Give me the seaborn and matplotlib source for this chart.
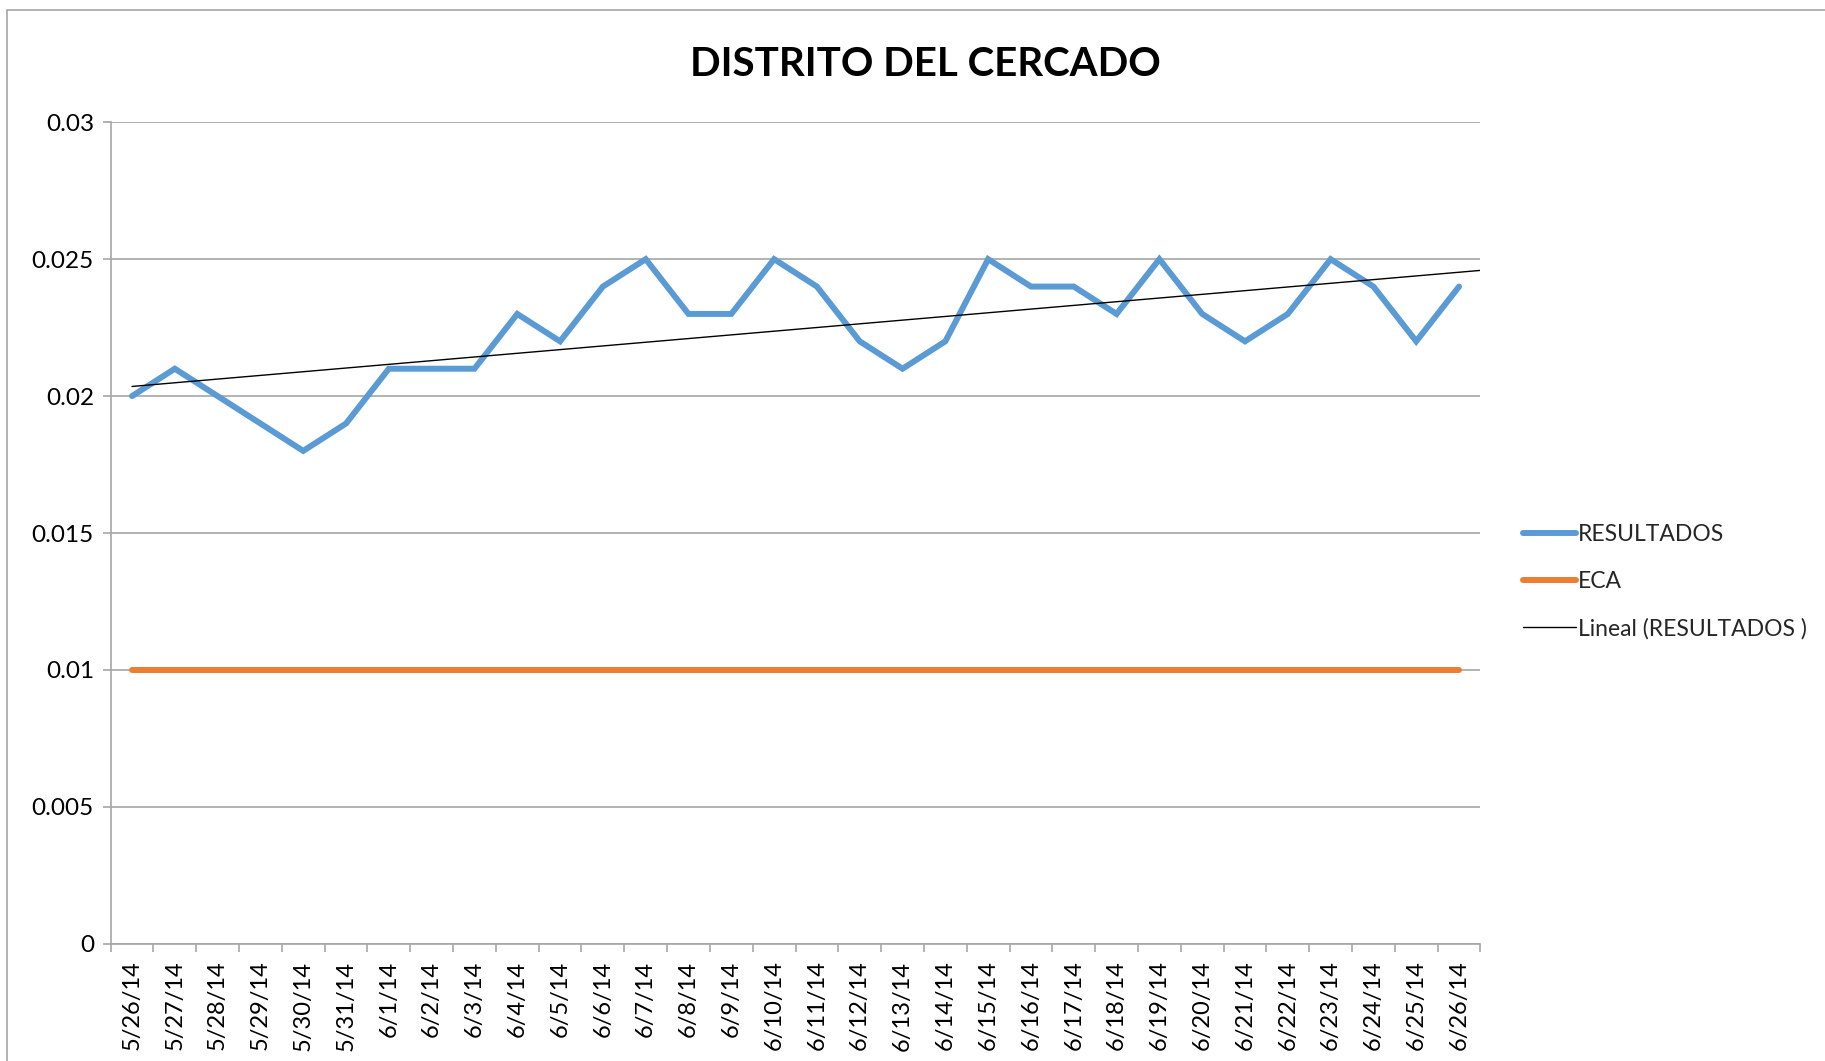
import numpy as np
import pandas as pd
import matplotlib
matplotlib.use("Agg")
import matplotlib.pyplot as plt
from matplotlib.patches import Rectangle
import seaborn as sns

# Daily sampling dates and measured concentrations
dates = ["5/26/14", "5/27/14", "5/28/14", "5/29/14", "5/30/14", "5/31/14",
         "6/1/14", "6/2/14", "6/3/14", "6/4/14", "6/5/14", "6/6/14", "6/7/14",
         "6/8/14", "6/9/14", "6/10/14", "6/11/14", "6/12/14", "6/13/14",
         "6/14/14", "6/15/14", "6/16/14", "6/17/14", "6/18/14", "6/19/14",
         "6/20/14", "6/21/14", "6/22/14", "6/23/14", "6/24/14", "6/25/14",
         "6/26/14"]
resultados = [0.020, 0.021, 0.020, 0.019, 0.018, 0.019, 0.021, 0.021, 0.021,
              0.023, 0.022, 0.024, 0.025, 0.023, 0.023, 0.025, 0.024, 0.022,
              0.021, 0.022, 0.025, 0.024, 0.024, 0.023, 0.025, 0.023, 0.022,
              0.023, 0.025, 0.024, 0.022, 0.024]
eca_limit = 0.01
eca = [eca_limit] * len(dates)
yticks = [0, 0.005, 0.01, 0.015, 0.02, 0.025, 0.03]
ytick_labels = ["0", "0.005", "0.01", "0.015", "0.02", "0.025", "0.03"]

BLUE = "#5B9BD5"
ORANGE = "#ED7D31"
GRID = "#A6A6A6"

sns.set_theme(style="white")
plt.rcParams["font.family"] = ["Lato", "DejaVu Sans"]

pos = np.arange(len(dates))
df = pd.DataFrame({"pos": pos, "RESULTADOS": resultados, "ECA": eca})

fig = plt.figure(figsize=(18.25, 10.61), dpi=100)
ax = fig.add_axes([0.0606, 0.1104, 0.7506, 0.7744])

# outer chart frame
fig.patches.append(Rectangle((7 / 1825, -0.01), 1.02, 1 - 10 / 1061 + 0.01,
                             transform=fig.transFigure, fill=False,
                             edgecolor="#A6A6A6", linewidth=1.2))

sns.lineplot(data=df, x="pos", y="RESULTADOS", ax=ax, color=BLUE,
             linewidth=4.3, solid_capstyle="round", solid_joinstyle="miter",
             label="RESULTADOS", zorder=3)
sns.lineplot(data=df, x="pos", y="ECA", ax=ax, color=ORANGE,
             linewidth=4.3, solid_capstyle="round", label="ECA", zorder=3)

# least-squares linear trend of the results
slope, intercept = np.polyfit(pos, resultados, 1)
xt = np.array([0, len(dates) - 0.5])
sns.lineplot(x=xt, y=intercept + slope * xt, ax=ax, color="black",
             linewidth=1.0, label="Lineal (RESULTADOS )", zorder=4)

ax.set_xlim(-0.5, len(dates) - 0.5)
ax.set_ylim(0, 0.03)
ax.set_yticks(yticks)
ax.set_yticklabels(ytick_labels)
ax.set_xticks(pos)
ax.set_xticklabels(dates, rotation=90)
ax.set_xticks(np.arange(-0.5, len(dates), 1.0), minor=True)
ax.set_xlabel("")
ax.set_ylabel("")

ax.grid(axis="y", color=GRID, linewidth=1.2)
ax.set_axisbelow(True)
for side in ["top", "right"]:
    ax.spines[side].set_visible(False)
for side in ["left", "bottom"]:
    ax.spines[side].set_color(GRID)
    ax.spines[side].set_linewidth(1.2)

ax.tick_params(axis="x", which="major", length=0, pad=12, labelsize=17,
               labelcolor="black")
ax.tick_params(axis="x", which="minor", bottom=True, length=6, width=1.2,
               color=GRID)
ax.tick_params(axis="y", left=True, length=6, width=1.2, color=GRID, pad=6,
               labelsize=17.5, labelcolor="black")

fig.text(925 / 1825, 1 - 64 / 1061, "DISTRITO DEL CERCADO", fontsize=29,
         fontweight="bold", color="black", ha="center", va="center")

leg = ax.legend(loc="center left", bbox_to_anchor=(1.016, 0.441),
                frameon=False, fontsize=16.5, handlelength=2.3,
                handletextpad=0.1, labelspacing=1.13)
for line in leg.get_lines():
    line.set_solid_capstyle("round")

fig.savefig("out.png", dpi=100, facecolor="white")
